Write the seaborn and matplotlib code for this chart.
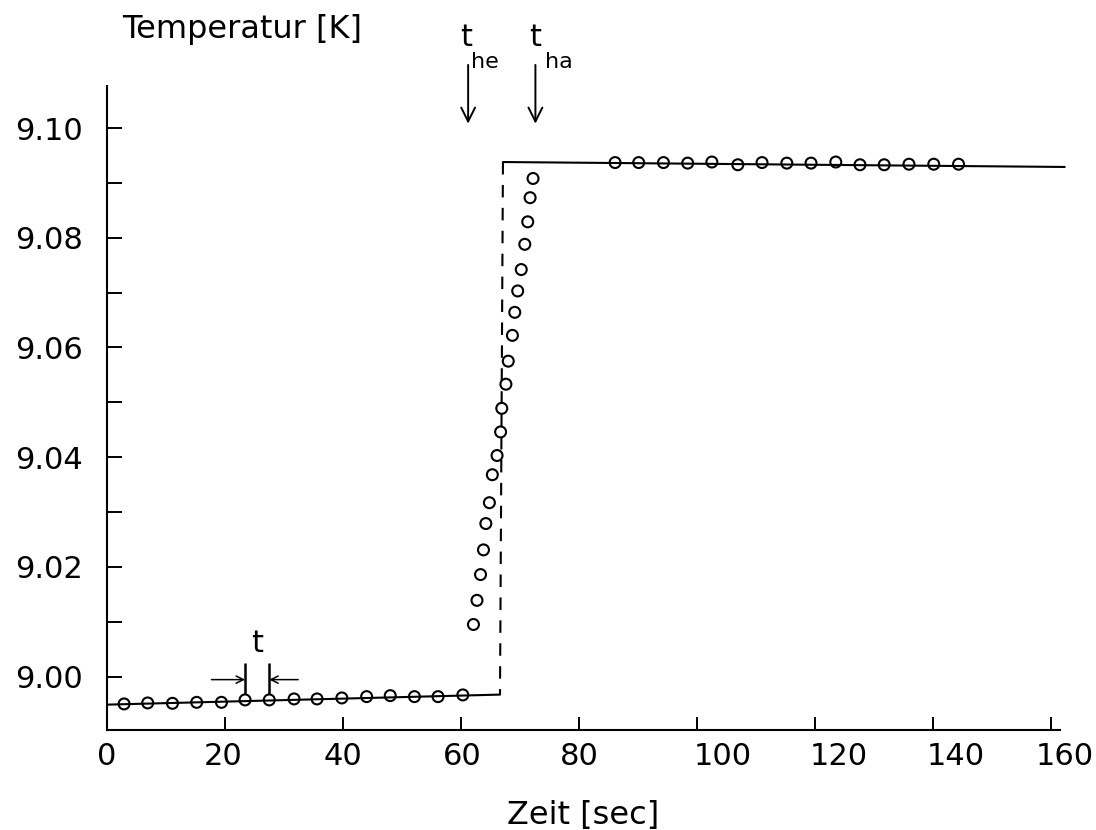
import matplotlib
matplotlib.use("Agg")
import matplotlib.pyplot as plt
import seaborn as sns
import numpy as np
import pandas as pd

# ---------------- data ----------------
base_t = [2.9, 6.9, 11.1, 15.2, 19.4, 23.4, 27.5, 31.7, 35.6, 39.8, 44.0, 48.0, 52.1, 56.1, 60.3]
base_T = [8.99502, 8.99520, 8.99513, 8.99531, 8.99531, 8.99575, 8.99575, 8.99593,
          8.99593, 8.99611, 8.99635, 8.99653, 8.99635, 8.99635, 8.99666]

rise_t = [62.1, 62.7, 63.3, 63.8, 64.2, 64.8, 65.3, 66.1, 66.7, 66.9,
          67.6, 68.0, 68.7, 69.1, 69.6, 70.2, 70.8, 71.3, 71.7, 72.2]
rise_T = [9.0095, 9.0139, 9.0186, 9.0231, 9.0279, 9.0317, 9.0368, 9.0403, 9.0446, 9.0489,
          9.0533, 9.0575, 9.0622, 9.0664, 9.0703, 9.0742, 9.0788, 9.0829, 9.0873, 9.0908]

top_t = [86.1, 90.1, 94.3, 98.4, 102.5, 106.9, 111.0, 115.2, 119.3, 123.5, 127.6, 131.7, 135.9, 140.1, 144.3]
top_T = [9.0937, 9.0937, 9.0937, 9.0936, 9.0938, 9.0933, 9.0937, 9.0936, 9.0936, 9.0938,
         9.0933, 9.0933, 9.0934, 9.0934, 9.0934]

# model step curve (solid low part, dashed jump, solid high part)
low_line_t = [0.0, 66.6]
low_line_T = [8.99489, 8.99672]
jump_t = [67.1, 66.6]
jump_T = [9.0938, 8.99672]
high_line_t = [67.1, 162.3]
high_line_T = [9.0938, 9.0929]

# annotations
t_he = 61.2
t_ha = 72.6
dt_left = 23.4
dt_right = 27.5

xticks = [0, 20, 40, 60, 80, 100, 120, 140, 160]
xtick_labels = ["0", "20", "40", "60", "80", "100", "120", "140", "160"]
yticks = [9.00, 9.02, 9.04, 9.06, 9.08, 9.10]
ytick_labels = ["9.00", "9.02", "9.04", "9.06", "9.08", "9.10"]
yminor = [9.01, 9.03, 9.05, 9.07, 9.09]

# ---------------- style ----------------
sns.set_style("ticks")
plt.rcParams["font.family"] = ["DejaVu Sans"]
plt.rcParams["text.color"] = "k"
plt.rcParams["axes.labelcolor"] = "k"
plt.rcParams["xtick.color"] = "k"
plt.rcParams["ytick.color"] = "k"

fig = plt.figure(figsize=(10.96, 8.30), dpi=100)
ax = fig.add_axes([0.0976, 0.1205, 0.8696, 0.7759])

lw = 1.5
# lines
sns.lineplot(x=low_line_t, y=low_line_T, ax=ax, color="k", lw=lw, estimator=None, sort=False)
sns.lineplot(x=high_line_t, y=high_line_T, ax=ax, color="k", lw=lw, estimator=None, sort=False,
             clip_on=False)
sns.lineplot(x=jump_t, y=jump_T, ax=ax, color="k", lw=lw, estimator=None, sort=False,
             linestyle=(0, (6, 5)))

# circles
pts = pd.DataFrame({"t": base_t + rise_t + top_t, "T": base_T + rise_T + top_T})
sns.scatterplot(data=pts, x="t", y="T", ax=ax, marker="o", s=62,
                facecolors="none", edgecolor="k", linewidth=1.5, zorder=5)

ax.set_xlim(0, 161.5)
ax.set_ylim(8.99027, 9.10766)
ax.set_ylabel("")

for s in ["top", "right"]:
    ax.spines[s].set_visible(False)
for s in ["left", "bottom"]:
    ax.spines[s].set_linewidth(1.5)
    ax.spines[s].set_color("k")

ax.set_xticks(xticks)
ax.set_yticks(yticks)
ax.set_yticklabels(ytick_labels)
ax.set_yticks(yminor, minor=True)
ax.tick_params(axis="both", which="both", direction="in", color="k", width=1.4)
ax.tick_params(axis="x", which="major", length=9.5, labelbottom=False)
ax.tick_params(axis="y", which="both", length=10.5, labelsize=22, pad=17, labelcolor="k")

# x tick labels (3-digit labels are shifted right in the original)
offsets_px = [0, -2, 0, 1, 0, 26, 24, 23, 14]
for v, lab, dx in zip(xticks, xtick_labels, offsets_px):
    ax.annotate(lab, xy=(v, 0), xycoords=("data", "axes fraction"),
                xytext=(dx * 0.72, -8.5), textcoords="offset points",
                ha="center", va="top", fontsize=22, color="k", annotation_clip=False)

# axis titles
fig.text(122 / 1096, 1 - 38 / 830, "Temperatur [K]", ha="left", va="baseline",
         fontsize=23, color="k")
ax.set_xlabel("Zeit [sec]", fontsize=23, color="k")
ax.xaxis.set_label_coords(0.5, -0.108)

# arrows t_he, t_ha
for xv in [t_he, t_ha]:
    ax.annotate("", xy=(xv, 9.1008), xytext=(xv, 9.1115),
                arrowprops=dict(arrowstyle="->,head_length=0.5,head_width=0.25",
                                lw=1.4, color="k", mutation_scale=20, shrinkA=0, shrinkB=0),
                annotation_clip=False)
ax.text(t_he - 0.4, 9.1165, "t", ha="center", va="center", fontsize=22, clip_on=False)
ax.text(t_he + 0.5, 9.1121, "he", ha="left", va="center", fontsize=16, clip_on=False)
ax.text(t_ha - 0.1, 9.1165, "t", ha="center", va="center", fontsize=22, clip_on=False)
ax.text(t_ha + 1.6, 9.1121, "ha", ha="left", va="center", fontsize=16, clip_on=False)

# sampling interval marker
ax.vlines([dt_left, dt_right], 8.99690, 9.00240, color="k", lw=1.8)
ax.annotate("", xy=(dt_left, 8.99945), xytext=(17.7, 8.99945),
            arrowprops=dict(arrowstyle="->,head_length=0.4,head_width=0.2",
                            lw=1.1, color="k", mutation_scale=13, shrinkA=0, shrinkB=0))
ax.annotate("", xy=(dt_right, 8.99945), xytext=(32.4, 8.99945),
            arrowprops=dict(arrowstyle="->,head_length=0.4,head_width=0.2",
                            lw=1.1, color="k", mutation_scale=13, shrinkA=0, shrinkB=0))
ax.text((dt_left + dt_right) / 2, 9.0060, "t", ha="center", va="center", fontsize=22)

fig.savefig("out.png", dpi=100)
